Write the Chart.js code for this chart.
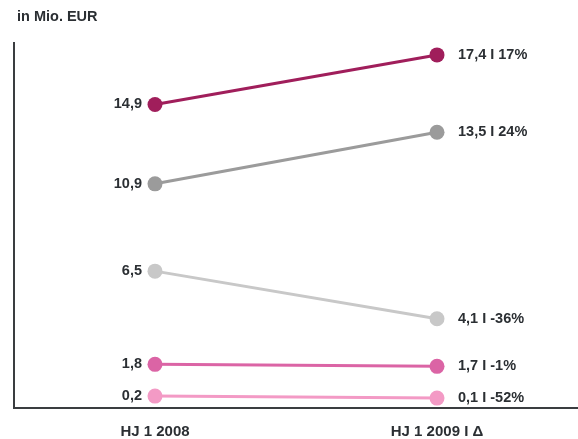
<!DOCTYPE html>
<html>
<head>
<meta charset="utf-8">
<script src="https://cdn.jsdelivr.net/npm/chart.js@4"></script>
<style>
  body { margin: 0; background: #fff; }
  #wrap { width: 578px; height: 439px; position: relative; }
</style>
</head>
<body>
<div id="wrap"><canvas id="slopeChart"></canvas></div>
<script>
const periods = ['HJ 1 2008', 'HJ 1 2009 I Δ'];
const values2008 = [14.9, 10.9, 6.5, 1.8, 0.2];
const values2009 = [17.4, 13.5, 4.1, 1.7, 0.1];
const changes = ['17%', '24%', '-36%', '-1%', '-52%'];
const colors = ['#A01E5B', '#9B9B9B', '#C8C8C8', '#DB64A5', '#F39AC5'];

const fmt = v => v.toFixed(1).replace('.', ',');
const labelFont = 'bold 14.5px "Liberation Sans", Arial, sans-serif';

const datasets = values2008.map((v, i) => ({
    data: [v, values2009[i]],
    borderColor: colors[i],
    backgroundColor: colors[i],
    pointBackgroundColor: colors[i],
    pointBorderColor: colors[i],
    borderWidth: 3,
    pointRadius: 7.5,
    pointBorderWidth: 0,
    pointHoverRadius: 7.5,
    tension: 0
}));

// draws the value labels next to each point and the unit title
const labelPlugin = {
    id: 'slopeLabels',
    afterDatasetsDraw(chart) {
        const c = chart.ctx;
        c.save();
        c.font = labelFont;
        c.fillStyle = '#2b2f33';
        c.textBaseline = 'middle';
        chart.data.datasets.forEach((ds, i) => {
            const pts = chart.getDatasetMeta(i).data;
            c.textAlign = 'right';
            c.fillText(fmt(values2008[i]), pts[0].x - 13, pts[0].y);
            c.textAlign = 'left';
            c.fillText(fmt(values2009[i]) + ' I ' + changes[i], pts[1].x + 21, pts[1].y);
        });
        c.textAlign = 'left';
        c.fillText('in Mio. EUR', 17, 17);
        c.restore();
    }
};

const ctx = document.getElementById('slopeChart').getContext('2d');
new Chart(ctx, {
    type: 'line',
    data: { labels: periods, datasets: datasets },
    options: {
        responsive: true,
        maintainAspectRatio: false,
        animation: false,
        layout: { autoPadding: false, padding: { top: 43, left: 14, right: 0, bottom: 0 } },
        plugins: {
            legend: { display: false },
            tooltip: { enabled: false }
        },
        scales: {
            x: {
                offset: true,
                grid: { display: false, drawTicks: false },
                border: { display: true, color: '#3a3d40', width: 2 },
                afterFit: scale => { scale.height = 31; },
                ticks: {
                    padding: 16,
                    maxRotation: 0,
                    color: '#2b2f33',
                    font: { family: '"Liberation Sans", Arial, sans-serif', size: 15, weight: 'bold', lineHeight: 1 }
                }
            },
            y: {
                min: -0.4,
                max: 18,
                grid: { display: false, drawTicks: false },
                border: { display: true, color: '#3a3d40', width: 2 },
                ticks: { display: false }
            }
        }
    },
    plugins: [labelPlugin]
});
</script>
</body>
</html>
